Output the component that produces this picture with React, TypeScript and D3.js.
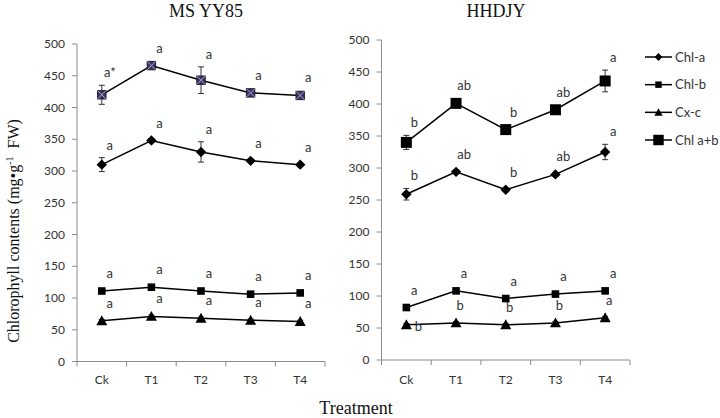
import React from "react";
import * as d3 from "d3";

const categories = ["Ck", "T1", "T2", "T3", "T4"];
const yTicks = [0, 50, 100, 150, 200, 250, 300, 350, 400, 450, 500];
const seriesNames = ["Chl-a", "Chl-b", "Cx-c", "Chl a+b"];

// MS YY85
const msChlA = [310, 348, 330, 316, 310];
const msChlAErr = [11, 3, 16, 2, 2];
const msChlB = [111, 117, 111, 106, 108];
const msChlBErr = [3, 3, 3, 3, 3];
const msCxc = [64, 71, 68, 65, 63];
const msCxcErr = [2, 2, 2, 2, 2];
const msChlAB = [420, 466, 443, 423, 419];
const msChlABErr = [15, 3, 21, 3, 3];
const msLabChlA = ["a", "a", "a", "a", "a"];
const msLabChlB = ["a", "a", "a", "a", "a"];
const msLabCxc = ["a", "a", "a", "a", "a"];
const msLabChlAB = ["a*", "a", "a", "a", "a"];

// HHDJY
const hhChlA = [259, 294, 266, 290, 325];
const hhChlAErr = [9, 3, 3, 3, 12];
const hhChlB = [82, 108, 96, 103, 108];
const hhChlBErr = [3, 3, 3, 3, 3];
const hhCxc = [55, 58, 55, 58, 66];
const hhCxcErr = [2, 2, 2, 2, 2];
const hhChlAB = [340, 401, 360, 391, 436];
const hhChlABErr = [11, 3, 3, 3, 17];
const hhLabChlA = ["b", "ab", "b", "ab", "a"];
const hhLabChlB = ["a", "a", "a", "a", "a"];
const hhLabCxc = ["b", "b", "b", "b", "a"];
const hhLabChlAB = ["b", "ab", "b", "ab", "a"];

type Series = { kind: string; values: number[]; err: number[]; labels: string[] };

const AXIS = "#8c8c8c";
const TXT = "#333";
const SANS = "Lato, 'Open Sans', sans-serif";
const SERIF = "'Liberation Serif', 'DejaVu Serif', serif";

function Marker({ kind, x, y, scale = 1 }: { kind: string; x: number; y: number; scale?: number }) {
  if (kind === "diamond") {
    const r = 5.2 * scale;
    const d = `M${x},${y - r}L${x + r},${y}L${x},${y + r}L${x - r},${y}Z`;
    return <path d={d} fill="#000" />;
  }
  if (kind === "square") {
    const r = 3.8 * scale;
    return <rect x={x - r} y={y - r} width={2 * r} height={2 * r} fill="#000" />;
  }
  if (kind === "triangle") {
    const r = 5.5 * scale;
    const pts = [
      [x, y - r],
      [x + r, y + r * 0.8],
      [x - r, y + r * 0.8],
    ];
    return <polygon points={pts.map((p) => p.join(",")).join(" ")} fill="#000" />;
  }
  if (kind === "bigsquare") {
    const r = 5.5 * scale;
    return <rect x={x - r} y={y - r} width={2 * r} height={2 * r} fill="#000" />;
  }
  if (kind === "xsquare") {
    const r = 4.2 * scale;
    return (
      <g>
        <rect x={x - r} y={y - r} width={2 * r} height={2 * r} fill="#3a3462" stroke="#1e1a38" strokeWidth={1} />
        <path d={`M${x - r},${y - r}L${x + r},${y + r}M${x + r},${y - r}L${x - r},${y + r}`} stroke="#a9a6cc" strokeWidth={1} />
      </g>
    );
  }
  return null;
}

function Panel({ x0, x1, yBottom, yTop, title, titleX, series }: {
  x0: number; x1: number; yBottom: number; yTop: number; title: string; titleX: number; series: Series[];
}) {
  const x = d3.scaleBand<string>().domain(categories).range([x0, x1]).padding(0);
  const y = d3.scaleLinear().domain([0, 500]).range([yBottom, yTop]);
  const cx = (c: string) => (x(c) as number) + x.bandwidth() / 2;
  const line = d3.line<number>().x((_, i) => cx(categories[i])).y((v) => y(v));
  const boundaries = [...categories.map((c) => x(c) as number), x1];
  const isHH = title === "HHDJY";
  return (
    <g>
      <text x={titleX} y={17} textAnchor="middle" fontFamily={SERIF} fontSize={18} fill="#111">{title}</text>
      <line x1={x0} x2={x0} y1={yTop} y2={yBottom} stroke={AXIS} strokeWidth={1} />
      {yTicks.map((t) => (
        <g key={t}>
          <line x1={x0 - 5} x2={x0} y1={y(t)} y2={y(t)} stroke={AXIS} strokeWidth={1} />
          <text x={x0 - 12} y={y(t) + 4} textAnchor="end" fontFamily={SANS} fontSize={12} fill={TXT}>{t}</text>
        </g>
      ))}
      <line x1={x0} x2={x1} y1={yBottom} y2={yBottom} stroke={AXIS} strokeWidth={1} />
      {boundaries.map((b, i) => (
        <line key={i} x1={b} x2={b} y1={yBottom} y2={yBottom + 5} stroke={AXIS} strokeWidth={1} />
      ))}
      {categories.map((c) => (
        <text key={c} x={cx(c)} y={384} textAnchor="middle" fontFamily={SANS} fontSize={12} fill={TXT}>{c}</text>
      ))}
      {series.map((s, si) => (
        <g key={si}>
          <path d={line(s.values) as string} fill="none" stroke="#000" strokeWidth={1.5} />
          {s.values.map((v, i) => {
            const px = cx(categories[i]);
            const e = s.err[i];
            return (
              <g key={i}>
                <line x1={px} x2={px} y1={y(v + e)} y2={y(v - e)} stroke="#000" strokeWidth={0.8} />
                <line x1={px - 3} x2={px + 3} y1={y(v + e)} y2={y(v + e)} stroke="#000" strokeWidth={0.8} />
                <line x1={px - 3} x2={px + 3} y1={y(v - e)} y2={y(v - e)} stroke="#000" strokeWidth={0.8} />
                <Marker kind={s.kind} x={px} y={y(v)} />
              </g>
            );
          })}
          {s.values.map((v, i) => {
            const px = cx(categories[i]);
            const top = Math.min(y(v + s.err[i]), y(v) - 5);
            const special = s.kind === "triangle" && isHH && i === 0;
            const lx = special ? px + 12 : px + (s.kind === "triangle" && isHH ? 4 : 8);
            const ly = special ? y(v) + 6 : top - 8;
            return (
              <text key={"l" + i} x={lx} y={ly} textAnchor="middle" fontFamily={SANS} fontSize={13} fill={TXT}>{s.labels[i]}</text>
            );
          })}
        </g>
      ))}
    </g>
  );
}

export default function App() {
  const msSeries: Series[] = [
    { kind: "diamond", values: msChlA, err: msChlAErr, labels: msLabChlA },
    { kind: "square", values: msChlB, err: msChlBErr, labels: msLabChlB },
    { kind: "triangle", values: msCxc, err: msCxcErr, labels: msLabCxc },
    { kind: "xsquare", values: msChlAB, err: msChlABErr, labels: msLabChlAB },
  ];
  const hhSeries: Series[] = [
    { kind: "diamond", values: hhChlA, err: hhChlAErr, labels: hhLabChlA },
    { kind: "square", values: hhChlB, err: hhChlBErr, labels: hhLabChlB },
    { kind: "triangle", values: hhCxc, err: hhCxcErr, labels: hhLabCxc },
    { kind: "bigsquare", values: hhChlAB, err: hhChlABErr, labels: hhLabChlAB },
  ];
  const legendKinds = ["diamond", "square", "triangle", "bigsquare"];
  const legendScales = [0.75, 0.85, 0.75, 0.95];
  const legendY = d3.scalePoint<string>().domain(seriesNames).range([57, 140]);
  return (
    <svg width={720} height={418} style={{ position: "absolute", left: 0, top: 0, background: "#fff" }}>
      <rect width={720} height={418} fill="#fff" />
      <Panel x0={77} x1={325} yBottom={361.5} yTop={44} title="MS YY85" titleX={206} series={msSeries} />
      <Panel x0={381.5} x1={630} yBottom={360} yTop={40} title="HHDJY" titleX={496} series={hhSeries} />
      <text transform="translate(19,231) rotate(-90)" textAnchor="middle" fontFamily={SERIF} fontSize={16} fill="#111">
        Chlorophyll contents (mg•g<tspan dy={-6} fontSize={10}>-1</tspan><tspan dy={6}>{"\u00a0\u00a0"}FW)</tspan>
      </text>
      <text x={356} y={414} textAnchor="middle" fontFamily={SERIF} fontSize={18} fill="#111">Treatment</text>
      {seriesNames.map((n, i) => {
        const ly = legendY(n) as number;
        return (
          <g key={n}>
            <line x1={645} x2={672} y1={ly} y2={ly} stroke="#000" strokeWidth={1.5} />
            <Marker kind={legendKinds[i]} x={658.5} y={ly} scale={legendScales[i]} />
            <text x={675} y={ly + 4.5} fontFamily={SANS} fontSize={13} fill={TXT}>{n}</text>
          </g>
        );
      })}
    </svg>
  );
}
